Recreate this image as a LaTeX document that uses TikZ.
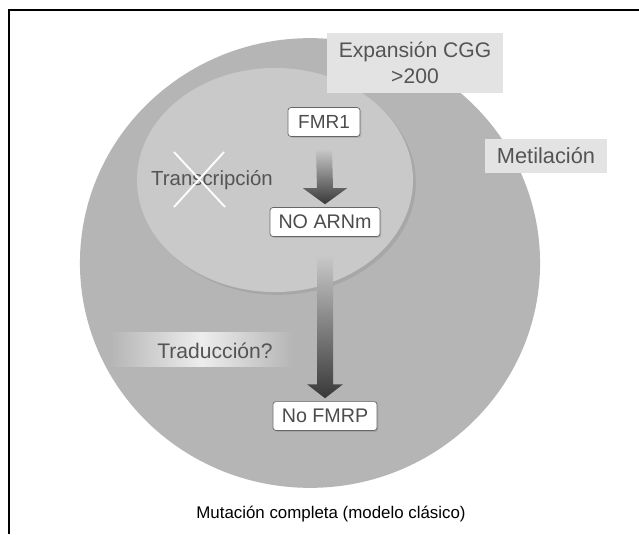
\documentclass[tikz,border=0pt]{standalone}
\usepackage{fontspec}
\setmainfont{Liberation Sans}
\usepackage{tikz}
\usetikzlibrary{calc,shadows}

\definecolor{outergray}{gray}{0.71}
\definecolor{innergray}{gray}{0.79}
\definecolor{taggray}{gray}{0.89}
\definecolor{textgray}{gray}{0.33}

\begin{document}
\begin{tikzpicture}[x=0.025cm, y=-0.025cm,
  genebox/.style={draw=black!60, line width=0.5pt, fill=white, rounded corners=2pt,
    minimum height=0.72cm, inner sep=1pt, text=black!70,
    font=\fontsize{14}{16}\selectfont,
    drop shadow={shadow xshift=1pt, shadow yshift=-1pt, opacity=0.3}},
  tagbox/.style={fill=taggray, inner sep=1pt, text=textgray},
  arrowshade/.style={top color=innergray, bottom color=black!78}]
  \useasboundingbox (0,0) rectangle (639,534);
  \fill[white] (0,0) rectangle (639,534);
  % Cell and nucleus
  \fill[outergray] (310,263) ellipse [x radius=5.75cm, y radius=5.62cm];
  \fill[innergray, drop shadow={shadow xshift=2pt, shadow yshift=-2pt, opacity=0.25}]
    (275,180) ellipse [x radius=3.45cm, y radius=2.8cm];
  % Translation label band
  \shade[left color=outergray, right color=outergray, middle color=gray!14]
    (110,332) rectangle (293,366);
  \node[text=textgray, font=\fontsize{15}{17}\selectfont] (trad) at (215,351) {Traducción?};
  % Gene boxes
  \node[genebox, minimum width=1.8cm, font=\fontsize{13.5}{15}\selectfont] (fmr) at (324,122) {FMR1};
  \node[genebox, minimum width=2.75cm] (arnm) at (325,222) {NO ARNm};
  \node[genebox, minimum width=2.6cm] (fmrp) at (325,416) {No FMRP};
  % Arrows
  \shade[arrowshade] ($(fmr.south)+(-8,12)$) -- ($(fmr.south)+(8,12)$)
    -- ($(arnm.north)+(8,-19)$) -- ($(arnm.north)+(22,-19)$) -- ($(arnm.north)+(0,-3)$)
    -- ($(arnm.north)+(-22,-19)$) -- ($(arnm.north)+(-8,-19)$) -- cycle;
  \shade[arrowshade] ($(arnm.south)+(-8,18)$) -- ($(arnm.south)+(8,18)$)
    -- ($(fmrp.north)+(8,-17)$) -- ($(fmrp.north)+(18,-17)$) -- ($(fmrp.north)+(0,-3)$)
    -- ($(fmrp.north)+(-18,-17)$) -- ($(fmrp.north)+(-8,-17)$) -- cycle;
  % Blocked transcription
  \node[text=textgray, font=\fontsize{14.5}{16}\selectfont] (transc) at (212,180) {Transcripción};
  \draw[white, line width=1.3pt] ($(transc.center)+(-38,-28)$) -- ($(transc.center)+(13,27)$);
  \draw[white, line width=1.3pt] ($(transc.center)+(12,-28)$) -- ($(transc.center)+(-38,27)$);
  % Side labels
  \node[tagbox, minimum width=4.4cm, minimum height=1.5cm, align=center,
    font=\fontsize{15}{18.5}\selectfont] (cgg) at (415,63) {Expansión CGG\\>200};
  \node[tagbox, minimum width=3.05cm, minimum height=0.85cm,
    font=\fontsize{15.5}{17}\selectfont] (metil) at (546,156) {Metilación};
  % Caption and frame
  \node[font=\fontsize{12}{14}\selectfont] (caption) at (331,514) {Mutación completa (modelo clásico)};
  \draw[line width=1.4pt] (9,534) -- (9,10) -- (639,10);
\end{tikzpicture}
\end{document}
